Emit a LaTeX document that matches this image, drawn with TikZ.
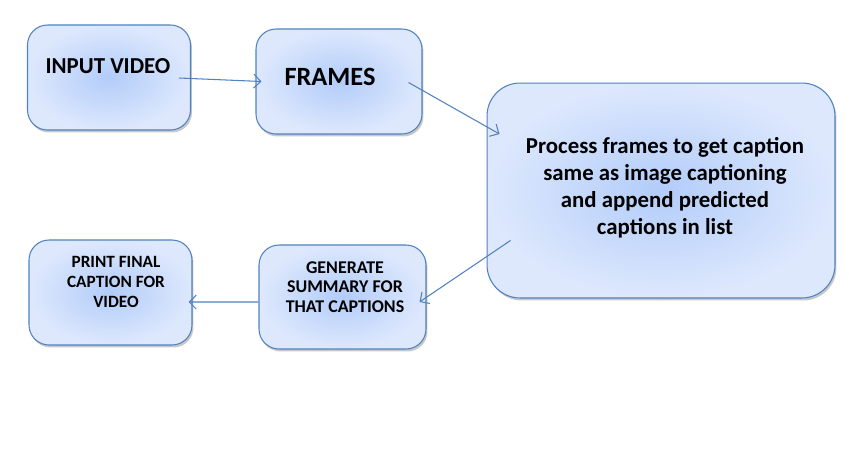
\documentclass[tikz,border=0pt]{standalone}
\usepackage{fontspec}
\setmainfont{Carlito}
\usetikzlibrary{arrows.meta,shadows}
\definecolor{boxline}{HTML}{5182C0}
\definecolor{boxin}{HTML}{B2CCF9}
\definecolor{boxout}{HTML}{DDE8FD}
\tikzset{
  flowbox/.style={draw=boxline, line width=0.6pt, rounded corners=0.4cm,
    inner color=boxin, outer color=boxout,
    drop shadow={shadow xshift=0.03cm, shadow yshift=-0.05cm, opacity=0.3, fill=black!70}},
  flowtext/.style={align=center, text=black},
  flowarrow/.style={draw=boxline, line width=0.6pt, -{Straight Barb[length=1.4mm,width=2.8mm]}}
}

\begin{document}
\begin{tikzpicture}[x=0.02cm, y=-0.02cm]
		%%%%% START %%%%%
		
		\useasboundingbox[fill=white] (0,0) rectangle (849,451);
		
		\node[flowbox, minimum width=3.26cm, minimum height=2.1cm] (inp) at (109,77.5) {};
		\node[flowtext, font=\bfseries\fontsize{13}{15}\selectfont] (inptxt) at (108,66) {INPUT VIDEO};
		
		\node[flowbox, minimum width=3.32cm, minimum height=2.1cm] (frm) at (339,81.5) {};
		\node[flowtext, font=\bfseries\fontsize{15}{17}\selectfont] (frmtxt) at (330,77) {FRAMES};
		
		\node[flowbox, rounded corners=0.66cm, minimum width=6.96cm, minimum height=4.3cm] (proc) at (661,190.5) {};
		\node[flowtext, font=\bfseries\fontsize{13}{15.4}\selectfont] (proctxt) at (665,188)
			{Process frames to get caption\\same as image captioning\\and append predicted\\captions in list};
		
		\node[flowbox, minimum width=3.34cm, minimum height=2.08cm] (gen) at (342.5,297) {};
		\node[flowtext, font=\bfseries\fontsize{10.2}{11.2}\selectfont] (gentxt) at (345,287)
			{GENERATE\\SUMMARY FOR\\THAT CAPTIONS};
		
		\node[flowbox, minimum width=3.26cm, minimum height=2.1cm] (prt) at (110.5,292.5) {};
		\node[flowtext, font=\bfseries\fontsize{9.8}{11.2}\selectfont] (prttxt) at (116,282)
			{PRINT FINAL\\CAPTION FOR\\VIDEO};
		
		\draw[flowarrow] ([shift={(-0.24cm,-0.01cm)}]inp.east) -- ([xshift=0.12cm]frm.west);
		\draw[flowarrow] ([shift={(-0.28cm,-0.02cm)}]frm.east) -- ([shift={(0.26cm,1.13cm)}]proc.west);
		\draw[flowarrow] ([shift={(0.48cm,-1.0cm)}]proc.west) -- ([shift={(-0.14cm,-0.1cm)}]gen.east);
		\draw[flowarrow] ([yshift=-0.1cm]gen.west) -- ([shift={(-0.08cm,-0.19cm)}]prt.east);
		
		%%%%% END %%%%%
	\end{tikzpicture}
\end{document}
